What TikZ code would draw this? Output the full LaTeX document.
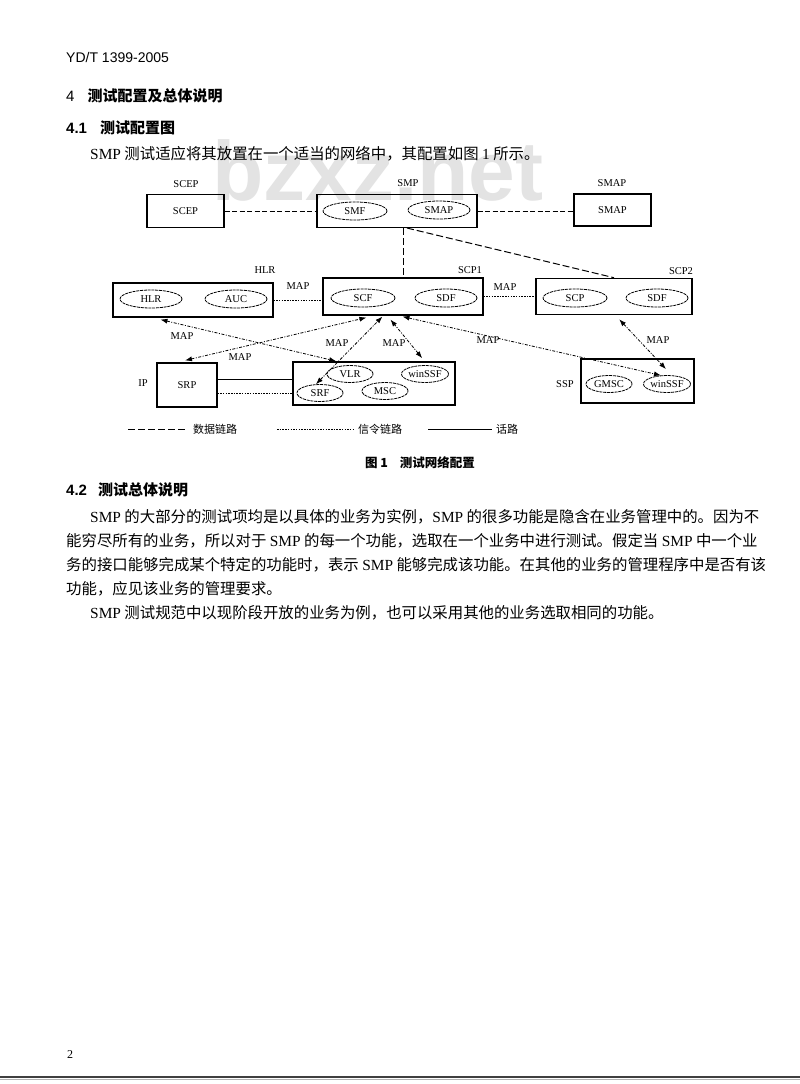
\documentclass[tikz,border=0pt]{standalone}
\usepackage{fontspec}
\setmainfont{Liberation Serif}
\setsansfont{Liberation Sans}
\newfontfamily\cjk{Noto Sans CJK SC}
\usetikzlibrary{shapes.geometric,arrows.meta,calc}
\tikzset{
 box/.style={draw, line width=1.1pt, rectangle, inner sep=0pt, font=\fontsize{10.5}{12}\selectfont},
 bigbox/.style={box, line width=1.6pt},
 fn/.style={draw, ellipse, dash pattern=on 3pt off 0.8pt, line width=0.8pt, inner sep=0pt, minimum width=62pt, minimum height=18pt, font=\fontsize{10.5}{12}\selectfont},
 sfn/.style={fn, minimum width=46pt, minimum height=17pt},
 lbl/.style={font=\fontsize{10.5}{12}\selectfont, inner sep=0pt},
 datalink/.style={line width=1pt, dash pattern=on 5pt off 2.5pt},
 longdata/.style={line width=1pt, dash pattern=on 7pt off 3pt},
 siglink/.style={line width=0.8pt, dash pattern=on 1.5pt off 1.2pt},
 voice/.style={line width=0.8pt},
 maplink/.style={line width=0.8pt, dash pattern=on 3pt off 1.5pt on 1pt off 1.5pt, {Latex[length=7pt,width=5pt]}-{Latex[length=7pt,width=5pt]}},
 body/.style={anchor=west, inner sep=0pt, font=\cjk\fontsize{15.4}{18}\selectfont},
 legend/.style={anchor=west, inner sep=0pt, font=\cjk\fontsize{11}{13}\selectfont},
}
\begin{document}
\begin{tikzpicture}[x=1pt,y=-1pt]
\useasboundingbox (0,0) rectangle (800,1084);
\fill[white] (0,0) rectangle (800,1084);
% watermark
\node[anchor=base west, inner sep=0pt, text=black!11, font=\sffamily\bfseries\fontsize{84}{90}\selectfont] (wm) at (212,200) {bzxz.net};

% header texts
\node[anchor=west, inner sep=0pt, font=\sffamily\fontsize{14}{16}\selectfont] (hdr) at (66,57) {YD/T 1399-2005};
\node[anchor=west, inner sep=0pt, font=\fontsize{15}{18}\selectfont] (s4) at (66,96) {\sffamily 4\hspace{13pt}\cjk\bfseries 测试配置及总体说明};
\node[anchor=west, inner sep=0pt, font=\fontsize{15}{18}\selectfont] (s41) at (66,128) {\sffamily\bfseries 4.1\hspace{13pt}\cjk 测试配置图};
\node[body] (intro) at (90,154) {{\rmfamily SMP} 测试适应将其放置在一个适当的网络中，其配置如图 {\rmfamily 1} 所示。};

% ---- row 1
\node[box, minimum width=77pt, minimum height=33pt] (scepbox) at (185.5,211) {SCEP};
\node[lbl] (sceplabel) at (186,184) {SCEP};
\node[box, minimum width=160pt, minimum height=33pt] (smpbox) at (397,211) {};
\node[lbl] (smplabel) at (408,183) {SMP};
\node[fn, minimum width=64pt] (smf) at (355,211) {SMF};
\node[fn] (smap) at (439,210) {SMAP};
\node[box, minimum width=77pt, minimum height=32pt] (smapbox) at (612.5,210) {SMAP};
\node[lbl] (smaplabel) at (612,183) {SMAP};

% ---- row 2
\node[box, minimum width=160pt, minimum height=34pt] (hlrbox) at (193,300) {};
\node[lbl] (hlrlabel) at (265,270) {HLR};
\node[fn] (hlr) at (151,299) {HLR};
\node[fn] (auc) at (236,299) {AUC};
\node[box, minimum width=160pt, minimum height=37pt] (scp1box) at (403,296.5) {};
\node[lbl] (scp1label) at (470,270) {SCP1};
\node[fn, minimum width=64pt] (scf) at (363,298) {SCF};
\node[fn] (sdf1) at (446,298) {SDF};
\node[bigbox, minimum width=156pt, minimum height=36pt] (scp2box) at (614,296.5) {};
\node[lbl] (scp2label) at (681,271) {SCP2};
\node[fn, minimum width=64pt] (scp) at (575,298) {SCP};
\node[fn] (sdf2) at (657,298) {SDF};
\node[lbl] (maphs) at (298,286) {MAP};
\node[lbl] (mapss) at (505,287) {MAP};

% ---- row 3
\node[lbl] (iplabel) at (143,383) {IP};
\node[box, minimum width=60pt, minimum height=44pt] (srpbox) at (187,385) {SRP};
\node[bigbox, minimum width=162pt, minimum height=43pt] (vlrbox) at (374,383.5) {};
\node[sfn] (vlr) at (350,374) {VLR};
\node[sfn] (winssfa) at (425,374) {winSSF};
\node[sfn] (srf) at (320,393) {SRF};
\node[sfn] (msc) at (385,391) {MSC};
\node[bigbox, minimum width=113pt, minimum height=44pt] (sspbox) at (637.5,381) {};
\node[lbl] (ssplabel) at (565,384) {SSP};
\node[sfn] (gmsc) at (609,384) {GMSC};
\node[sfn] (winssfb) at (667,384) {winSSF};

% ---- connectors
\draw[datalink] (scepbox.east) -- (scepbox.east -| smpbox.west);
\draw[datalink] (smpbox.east) -- (smpbox.east -| smapbox.west);
\draw[longdata] (smpbox.south -| scp1box.north) -- (scp1box.north);
\draw[longdata] ($(smpbox.south)+(10,0)$) -- (scp2box.north);
\draw[siglink] (hlrbox.east) -- (hlrbox.east -| scp1box.west);
\draw[siglink] (scp1box.east) -- (scp1box.east -| scp2box.west);
\coordinate (srpv) at ($(srpbox.east)+(0,-6)$);
\coordinate (srps) at ($(srpbox.east)+(0,8)$);
\draw[voice] (srpv) -- (srpv -| vlrbox.west);
\draw[siglink] (srps) -- (srps -| vlrbox.west);

% MAP arrows
\draw[maplink] ($(hlrbox.south west)+(48,2)$) -- ($(vlrbox.north west)+(44,0)$);
\draw[maplink] ($(srpbox.north)+(-2,-2)$) -- ($(scp1box.south west)+(44,2)$);
\draw[maplink] (srf.115) -- ($(scp1box.south west)+(60,1)$);
\draw[maplink] ($(vlrbox.north west)+(130,-3)$) -- ($(scp1box.south west)+(68,4)$);
\draw[maplink] ($(scp1box.south west)+(80,1)$) -- (winssfb.125);
\draw[maplink] ($(scp2box.south west)+(84,4)$) -- ($(winssfb.north)+(-1,-6)$);
\node[lbl] (maphv) at (182,336) {MAP};
\node[lbl] (mapsrp) at (240,357) {MAP};
\node[lbl] (mapsrf) at (337,343) {MAP};
\node[lbl] (mapwin) at (394,343) {MAP};
\node[lbl] (mapssp) at (488,340) {MAP};
\node[lbl] (mapscp) at (658,340) {MAP};

% ---- legend
\coordinate (la) at (128,429); \coordinate (lb) at (188,429);
\coordinate (lc) at (277,429); \coordinate (ld) at (353,429);
\coordinate (le) at (428,429); \coordinate (lf) at (492,429);
\draw[line width=0.8pt, dash pattern=on 7pt off 3pt] (la) -- (lb);
\draw[siglink] (lc) -- (ld);
\draw[voice] (le) -- (lf);
\node[legend] (lt1) at (193,429) {数据链路};
\node[legend] (lt2) at (358,429) {信令链路};
\node[legend] (lt3) at (496,429) {话路};

% caption
\node[inner sep=0pt, font=\cjk\bfseries\fontsize{12.5}{14}\selectfont] (cap) at (420,463) {图 1\hspace{12pt}测试网络配置};

% section 4.2
\node[anchor=west, inner sep=0pt, font=\fontsize{15}{18}\selectfont] (s42) at (66,490) {\sffamily\bfseries 4.2\hspace{11pt}\cjk 测试总体说明};
\node[body] (p1) at (90,517) {{\rmfamily SMP} 的大部分的测试项均是以具体的业务为实例，{\rmfamily SMP} 的很多功能是隐含在业务管理中的。因为不};
\node[body] (p2) at (66,541) {能穷尽所有的业务，所以对于 {\rmfamily SMP} 的每一个功能，选取在一个业务中进行测试。假定当 {\rmfamily SMP} 中一个业};
\node[body] (p3) at (66,565) {务的接口能够完成某个特定的功能时，表示 {\rmfamily SMP} 能够完成该功能。在其他的业务的管理程序中是否有该};
\node[body] (p4) at (66,589) {功能，应见该业务的管理要求。};
\node[body] (p5) at (90,613) {{\rmfamily SMP} 测试规范中以现阶段开放的业务为例，也可以采用其他的业务选取相同的功能。};

% footer
\node[inner sep=0pt, font=\fontsize{12}{14}\selectfont] (pg) at (70,1055) {2};
\coordinate (rl) at (0,1077); \coordinate (rr) at (800,1077);
\draw[line width=2.2pt, black!75] (rl) -- (rr);
\draw[line width=1.5pt, black!30] ($(rl)+(0,2.5)$) -- ($(rr)+(0,2.5)$);
\end{tikzpicture}
\end{document}
